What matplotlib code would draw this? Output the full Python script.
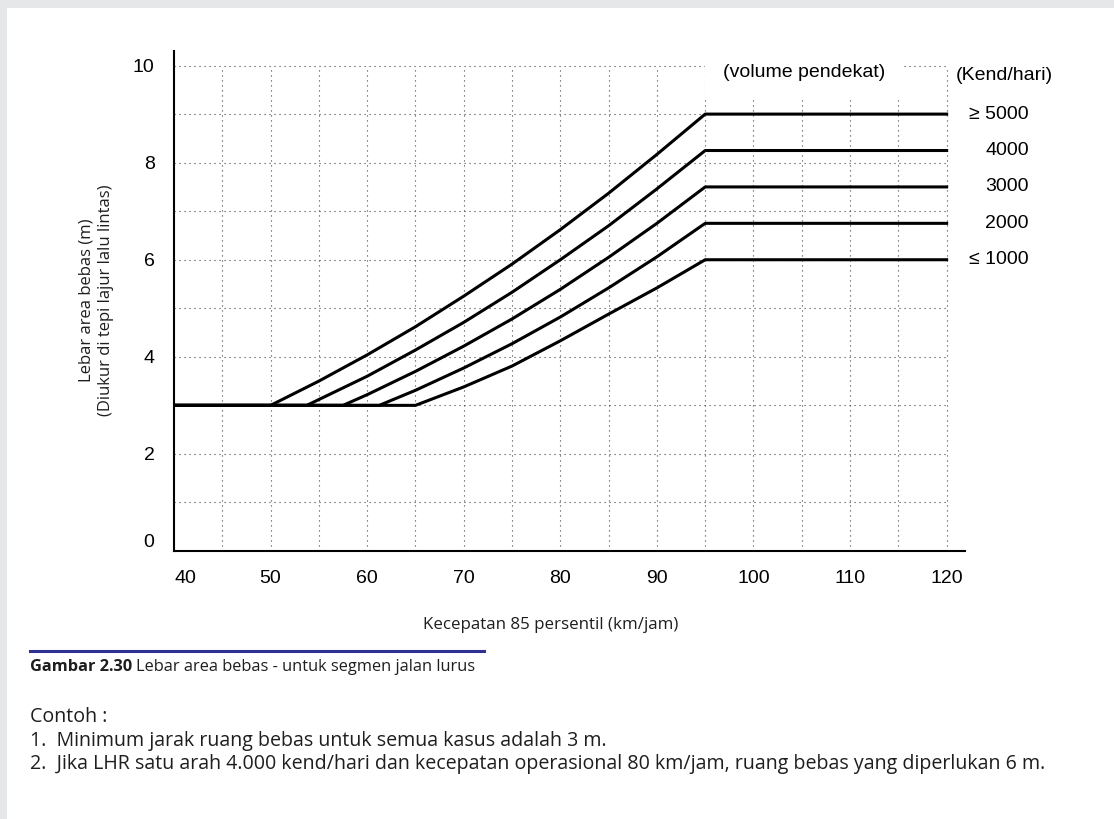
import matplotlib
matplotlib.use("Agg")
import matplotlib.pyplot as plt
from matplotlib.patches import Rectangle
from matplotlib.lines import Line2D

# kecepatan 85 persentil (km/jam) vs lebar area bebas (m), per volume pendekat
speed_5000 = [40, 50, 55, 60, 65, 70, 75, 80, 85, 90, 95, 120]
width_5000 = [3.0, 3.0, 3.50, 4.04, 4.62, 5.25, 5.91, 6.62, 7.37, 8.17, 9.0, 9.0]
speed_4000 = [40, 53.75, 55, 60, 65, 70, 75, 80, 85, 90, 95, 120]
width_4000 = [3.0, 3.0, 3.12, 3.60, 4.14, 4.71, 5.33, 6.00, 6.70, 7.46, 8.25, 8.25]
speed_3000 = [40, 57.5, 60, 65, 70, 75, 80, 85, 90, 95, 120]
width_3000 = [3.0, 3.0, 3.22, 3.70, 4.22, 4.78, 5.39, 6.05, 6.75, 7.5, 7.5]
speed_2000 = [40, 61.25, 65, 70, 75, 80, 85, 90, 95, 120]
width_2000 = [3.0, 3.0, 3.31, 3.77, 4.27, 4.82, 5.42, 6.06, 6.75, 6.75]
speed_1000 = [40, 65, 70, 75, 80, 85, 90, 95, 120]
width_1000 = [3.0, 3.0, 3.38, 3.81, 4.33, 4.88, 5.42, 6.0, 6.0]

volume_labels = ["\u2265 5000", "4000", "3000", "2000", "\u2264 1000"]
x_ticks = [40, 50, 60, 70, 80, 90, 100, 110, 120]
y_ticks = [0, 2, 4, 6, 8, 10]
x_grid = [45, 50, 55, 60, 65, 70, 75, 80, 85, 90, 95, 100, 105, 110, 115, 120]
y_grid = [1, 2, 3, 4, 5, 6, 7, 8, 9, 10]

W, H = 1114, 819
ARIAL = "Liberation Sans"
HUMAN = "Open Sans"
TXT = "#1e1e1e"

fig = plt.figure(figsize=(W / 100, H / 100), dpi=100)
fig.patch.set_facecolor("#e6e7e9")
fig.add_artist(Rectangle((7 / W, 0), 1, 1 - 8 / H, transform=fig.transFigure,
                         facecolor="white", edgecolor="none", zorder=0))

ax = fig.add_axes([174 / W, 1 - 551 / H, (965 - 174) / W, (551 - 51) / H])
ax.set_facecolor("none")
ax.set_xlim(40, 121.9)
ax.set_ylim(0, 10.3)

# dotted grid, only inside 40..120 / 0..10
grid_kw = dict(color="#444444", lw=0.8, dashes=(1, 3.5), zorder=1)
for gx in x_grid:
    ax.plot([gx, gx], [0, 10], **grid_kw)
for gy in y_grid:
    ax.plot([40, 120], [gy, gy], **grid_kw)

series = [(speed_5000, width_5000), (speed_4000, width_4000), (speed_3000, width_3000),
          (speed_2000, width_2000), (speed_1000, width_1000)]
for (sx, sy), lab in zip(series, volume_labels):
    ax.plot(sx, sy, color="black", lw=2.2, solid_joinstyle="round", zorder=3)
    ax.text(128.5, sy[-1], lab, ha="right", va="center", fontsize=14,
            family=ARIAL, clip_on=False)

ax.text(105.2, 9.85, "(volume pendekat)", ha="center", va="center", fontsize=14,
        family=ARIAL, zorder=4,
        bbox=dict(facecolor="white", edgecolor="none", pad=13))
ax.text(126.0, 9.8, "(Kend/hari)", ha="center", va="center", fontsize=14,
        family=ARIAL, clip_on=False)

for side in ["top", "right"]:
    ax.spines[side].set_visible(False)
for side in ["left", "bottom"]:
    ax.spines[side].set_linewidth(1.5)
    ax.spines[side].set_zorder(5)

ax.set_xticks(x_ticks)
ax.set_yticks(y_ticks)
ax.tick_params(length=0, labelsize=14, pad=14)
for t in ax.get_xticklabels() + ax.get_yticklabels():
    t.set_fontfamily(ARIAL)
ax.get_xticklabels()[0].set_horizontalalignment("left")
ax.get_yticklabels()[0].set_verticalalignment("bottom")

fig.text(96 / W, 1 - 300 / H, "Lebar area bebas (m)\n(Diukur di tepi lajur lalu lintas)",
         rotation=90, ha="center", va="center", ma="center", fontsize=12,
         family=HUMAN, linespacing=1.25, color=TXT)
fig.text(551 / W, 1 - 625 / H, "Kecepatan 85 persentil (km/jam)", ha="center",
         va="center", fontsize=12.2, family=HUMAN, color=TXT)

# caption
fig.add_artist(Line2D([30 / W, 484 / W], [1 - 651 / H, 1 - 651 / H],
                      color="#2e3192", lw=2.2, transform=fig.transFigure))
cap_bold = fig.text(30 / W, 1 - 667 / H, "Gambar 2.30", ha="left", va="center",
                    fontsize=11.8, family=HUMAN, weight="bold", color=TXT)
renderer = fig.canvas.get_renderer()
bb = cap_bold.get_window_extent(renderer)
fig.text(bb.x1 / W + 4 / W, 1 - 667 / H, "Lebar area bebas - untuk segmen jalan lurus",
         ha="left", va="center", fontsize=11.8, family=HUMAN, color=TXT)

notes = ["Contoh :",
         "1.  Minimum jarak ruang bebas untuk semua kasus adalah 3 m.",
         "2.  Jika LHR satu arah 4.000 kend/hari dan kecepatan operasional 80 km/jam, "
         "ruang bebas yang diperlukan 6 m."]
for txt, ypix in zip(notes, [717, 741, 764]):
    fig.text(30 / W, 1 - ypix / H, txt, ha="left", va="center", fontsize=14.1,
             family=HUMAN, color=TXT)

fig.savefig("out.png", dpi=100, facecolor=fig.get_facecolor())
